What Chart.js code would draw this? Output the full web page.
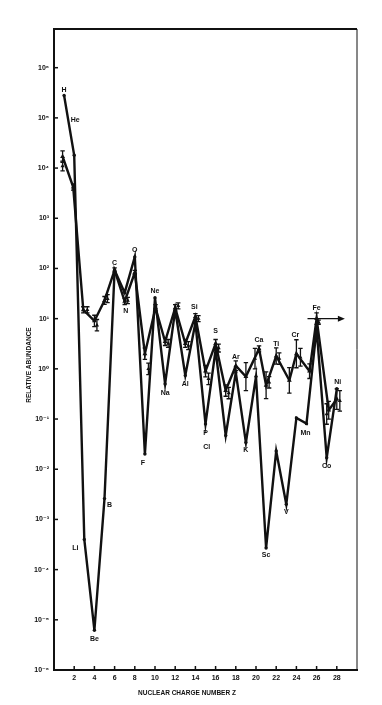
<!DOCTYPE html>
<html>
<head>
<meta charset="utf-8">
<script src="https://cdn.jsdelivr.net/npm/chart.js@4.4.1/dist/chart.umd.min.js"></script>
<style>
html,body{margin:0;padding:0;background:#ffffff;}
#wrap{width:382px;height:705px;position:relative;}
canvas{display:block;}
</style>
</head>
<body>
<div id="wrap"><canvas id="c" width="382" height="705"></canvas></div>
<script>
// ---------- DATA ----------
const elements = ['H','He','Li','Be','B','C','N','O','F','Ne','Na','Mg','Al','Si','P','S','Cl','Ar','K','Ca','Sc','Ti','V','Cr','Mn','Fe','Co','Ni'];

// Solar-system abundances (thick line)
const solarZ = [1,2,3,4,5,6,7,8,9,10,11,12,13,14,15,16,17,18,19,20,21,22,23,24,25,26,27,28];
const solarAbundance = [2.8e5, 1.8e4, 4.0e-4, 6.2e-6, 2.6e-3, 93, 33, 170, 0.020, 26, 0.50, 15, 0.74, 8.3, 0.080, 2.4, 0.047, 0.85, 0.034, 0.70, 2.7e-4, 0.023, 2.0e-3, 0.105, 0.081, 6.3, 0.017, 0.40];

// Cosmic-ray abundances (line with measured points)
const crZ = [0.85,1.9,2.9,4,5,6,7,8,9,10.05,11,12,13,14,15,16,17,18,19,20.3,21,22,23.3,24,25.3,26,27.2,28];
const crAbundance = [17000, 4200, 15, 9, 23, 93, 22, 83, 2.0, 16.5, 3.5, 16.5, 3.2, 11, 0.9, 3.2, 0.37, 1.15, 0.7, 2.5, 0.47, 1.8, 0.59, 2.0, 0.9, 10, 0.15, 0.25];
const crError = [1.3, 1.15, 1.15, 1.3, 1.2, 1.1, 1.15, 1.1, 1.3, 1.15, 1.2, 1.15, 1.2, 1.15, 1.3, 1.2, 1.3, 1.25, 1.9, 1.15, 1.85, 1.45, 1.8, 1.9, 1.4, 1.3, 1.5, 1.6];

// Additional cosmic-ray measurements (points only)
const crExtraZ = [0.85, 3.3, 4.25, 5.3, 7.3, 9.35, 11.3, 12.3, 13.3, 14.3, 15.3, 16.3, 17.3, 19.9, 21.3, 22.3, 24.4, 26.2, 27.0, 28.3];
const crExtraAbundance = [11000, 15, 7.4, 25, 23, 1.0, 3.2, 18, 2.9, 10, 0.63, 2.6, 0.33, 1.6, 0.54, 1.6, 1.7, 8.5, 0.126, 0.23];
const crExtraError = [1.25, 1.15, 1.3, 1.2, 1.15, 1.3, 1.2, 1.15, 1.2, 1.15, 1.3, 1.2, 1.3, 1.6, 1.3, 1.3, 1.5, 1.1, 1.6, 1.6];

// Arrow at Fe (Z range and level)
const feArrowZ = [25.1, 28.8];
const feArrowAbundance = 10;

// Axes
const yTickExponents = [-6,-5,-4,-3,-2,-1,0,1,2,3,4,5,6];
const xTickValues = [2,4,6,8,10,12,14,16,18,20,22,24,26,28];
const xTitle = 'NUCLEAR CHARGE NUMBER Z';
const yTitle = 'RELATIVE ABUNDANCE';

// ---------- STYLE ----------
const INK = '#111111';
const FONT = '"Liberation Sans", Arial, "DejaVu Sans", sans-serif';
// label placement: [anchor ('s' solar / 'c' cosmic ray), dx, dy]
const labelPlacement = {
  H:['s',0,-5], He:['s',1,-35], Li:['s',-9,9], Be:['s',0,9], B:['s',5,6], C:['s',0,-7],
  N:['s',1,18], O:['s',0,-7], F:['s',-2,9], Ne:['s',0,-7], Na:['s',0,9], Al:['s',0,9],
  Si:['c',-1,-10], P:['s',0,9], S:['c',0,-12], Cl:['s',-19,12], Ar:['c',0,-9], K:['s',0,8],
  Ca:['c',0,-9], Sc:['s',0,7], Ti:['c',0,-12], V:['s',0,8], Cr:['c',-1,-19], Mn:['s',-1,9],
  Fe:['c',0,-11], Co:['s',0,8], Ni:['s',1,-7]
};

const SUP = {'-':'⁻','0':'⁰','1':'¹','2':'²','3':'³','4':'⁴','5':'⁵','6':'⁶','7':'⁷','8':'⁸','9':'⁹'};
function powLabel(v){
  const e = Math.round(Math.log10(v));
  return '10' + String(e).split('').map(c=>SUP[c]).join('');
}

const solarData = solarZ.map((z,i)=>({x:z, y:solarAbundance[i]}));
const crData = crZ.map((z,i)=>({x:z, y:crAbundance[i]}));
const crExtraData = crExtraZ.map((z,i)=>({x:z, y:crExtraAbundance[i]}));

const errorBarPlugin = {
  id:'errorBars',
  afterDatasetsDraw(chart){
    const ctx = chart.ctx, xs = chart.scales.x, ys = chart.scales.y;
    chart.data.datasets.forEach((ds)=>{
      if(!ds.errFactor) return;
      ctx.save();
      ctx.strokeStyle = INK; ctx.lineWidth = 1.3;
      ds.data.forEach((p,i)=>{
        const f = ds.errFactor[i];
        const x = xs.getPixelForValue(p.x);
        const y1 = ys.getPixelForValue(p.y*f);
        const y2 = ys.getPixelForValue(p.y/f);
        ctx.beginPath();
        ctx.moveTo(x,y1); ctx.lineTo(x,y2);
        ctx.moveTo(x-2.2,y1); ctx.lineTo(x+2.2,y1);
        ctx.moveTo(x-2.2,y2); ctx.lineTo(x+2.2,y2);
        ctx.stroke();
      });
      ctx.restore();
    });
  }
};

const decorPlugin = {
  id:'decor',
  afterDraw(chart){
    const ctx = chart.ctx, a = chart.chartArea, xs = chart.scales.x, ys = chart.scales.y;
    ctx.save();
    // top and right frame
    ctx.strokeStyle = INK;
    ctx.lineWidth = 2;
    ctx.beginPath(); ctx.moveTo(a.left-1, a.top); ctx.lineTo(a.right, a.top); ctx.stroke();
    ctx.lineWidth = 1;
    ctx.beginPath(); ctx.moveTo(a.right, a.top); ctx.lineTo(a.right, a.bottom); ctx.stroke();
    // inward tick marks
    ctx.lineWidth = 1.5;
    yTickExponents.forEach(e=>{
      const y = ys.getPixelForValue(Math.pow(10,e));
      ctx.beginPath(); ctx.moveTo(a.left, y); ctx.lineTo(a.left+4, y); ctx.stroke();
    });
    xTickValues.forEach(v=>{
      const x = xs.getPixelForValue(v);
      ctx.beginPath(); ctx.moveTo(x, a.bottom); ctx.lineTo(x, a.bottom-4); ctx.stroke();
    });
    // arrow at Fe
    const ax1 = xs.getPixelForValue(feArrowZ[0]), ax2 = xs.getPixelForValue(feArrowZ[1]);
    const ay = ys.getPixelForValue(feArrowAbundance);
    ctx.lineWidth = 1.4;
    ctx.beginPath(); ctx.moveTo(ax1, ay); ctx.lineTo(ax2-4, ay); ctx.stroke();
    ctx.fillStyle = INK;
    ctx.beginPath(); ctx.moveTo(ax2, ay); ctx.lineTo(ax2-7, ay-3); ctx.lineTo(ax2-7, ay+3); ctx.closePath(); ctx.fill();
    // element labels
    ctx.font = 'bold 7px ' + FONT;
    ctx.textAlign = 'center'; ctx.textBaseline = 'middle';
    elements.forEach((el,i)=>{
      const pl = labelPlacement[el];
      if(!pl) return;
      const p = pl[0]==='s' ? solarData[i] : crData[i];
      const x = xs.getPixelForValue(p.x) + pl[1];
      const y = ys.getPixelForValue(p.y) + pl[2];
      ctx.fillText(el, x, y);
    });
    // axis titles
    ctx.font = 'bold 6.5px ' + FONT;
    ctx.fillText(xTitle, 187, 693);
    ctx.save();
    ctx.translate(29, 365);
    ctx.rotate(-Math.PI/2);
    ctx.fillText(yTitle, 0, 0);
    ctx.restore();
    ctx.restore();
  }
};

new Chart(document.getElementById('c'), {
  type:'line',
  data:{
    datasets:[
      { label:'Solar system', data:solarData, borderColor:INK, backgroundColor:INK, borderWidth:2.4,
        pointRadius:1.7, pointBackgroundColor:INK, pointBorderWidth:0, tension:0, fill:false },
      { label:'Cosmic rays', data:crData, borderColor:INK, backgroundColor:INK, borderWidth:2.4,
        pointStyle:'triangle', pointRadius:2.8, pointBackgroundColor:INK, pointBorderWidth:0,
        tension:0, fill:false, errFactor:crError },
      { label:'Cosmic rays (other)', data:crExtraData, showLine:false, borderColor:INK, backgroundColor:INK,
        pointStyle:'triangle', pointRadius:2.4, pointBackgroundColor:INK, pointBorderWidth:0,
        errFactor:crExtraError }
    ]
  },
  options:{
    responsive:false, animation:false, devicePixelRatio:1,
    layout:{padding:{left:0, top:29, right:25, bottom:0}},
    plugins:{legend:{display:false}, tooltip:{enabled:false}, title:{display:false}},
    scales:{
      x:{ type:'linear', min:0, max:30,
        afterBuildTicks:s=>{ s.ticks = xTickValues.map(v=>({value:v})); },
        afterFit:s=>{ s.height = 35; },
        grid:{display:false, drawTicks:false},
        border:{display:true, width:2, color:INK},
        ticks:{ autoSkip:false, maxRotation:0, padding:4, color:INK,
          font:{family:FONT, size:7, weight:'bold'}, callback:v=>String(v) }
      },
      y:{ type:'logarithmic', min:1e-6, max:5.9e6,
        afterBuildTicks:s=>{ s.ticks = yTickExponents.map(e=>({value:Math.pow(10,e)})); },
        afterFit:s=>{ s.width = 54; },
        grid:{display:false, drawTicks:false},
        border:{display:true, width:2, color:INK},
        ticks:{ autoSkip:false, padding:5, color:INK,
          font:{family:FONT, size:7, weight:'bold'}, callback:v=>powLabel(v) }
      }
    }
  },
  plugins:[errorBarPlugin, decorPlugin]
});
</script>
</body>
</html>
